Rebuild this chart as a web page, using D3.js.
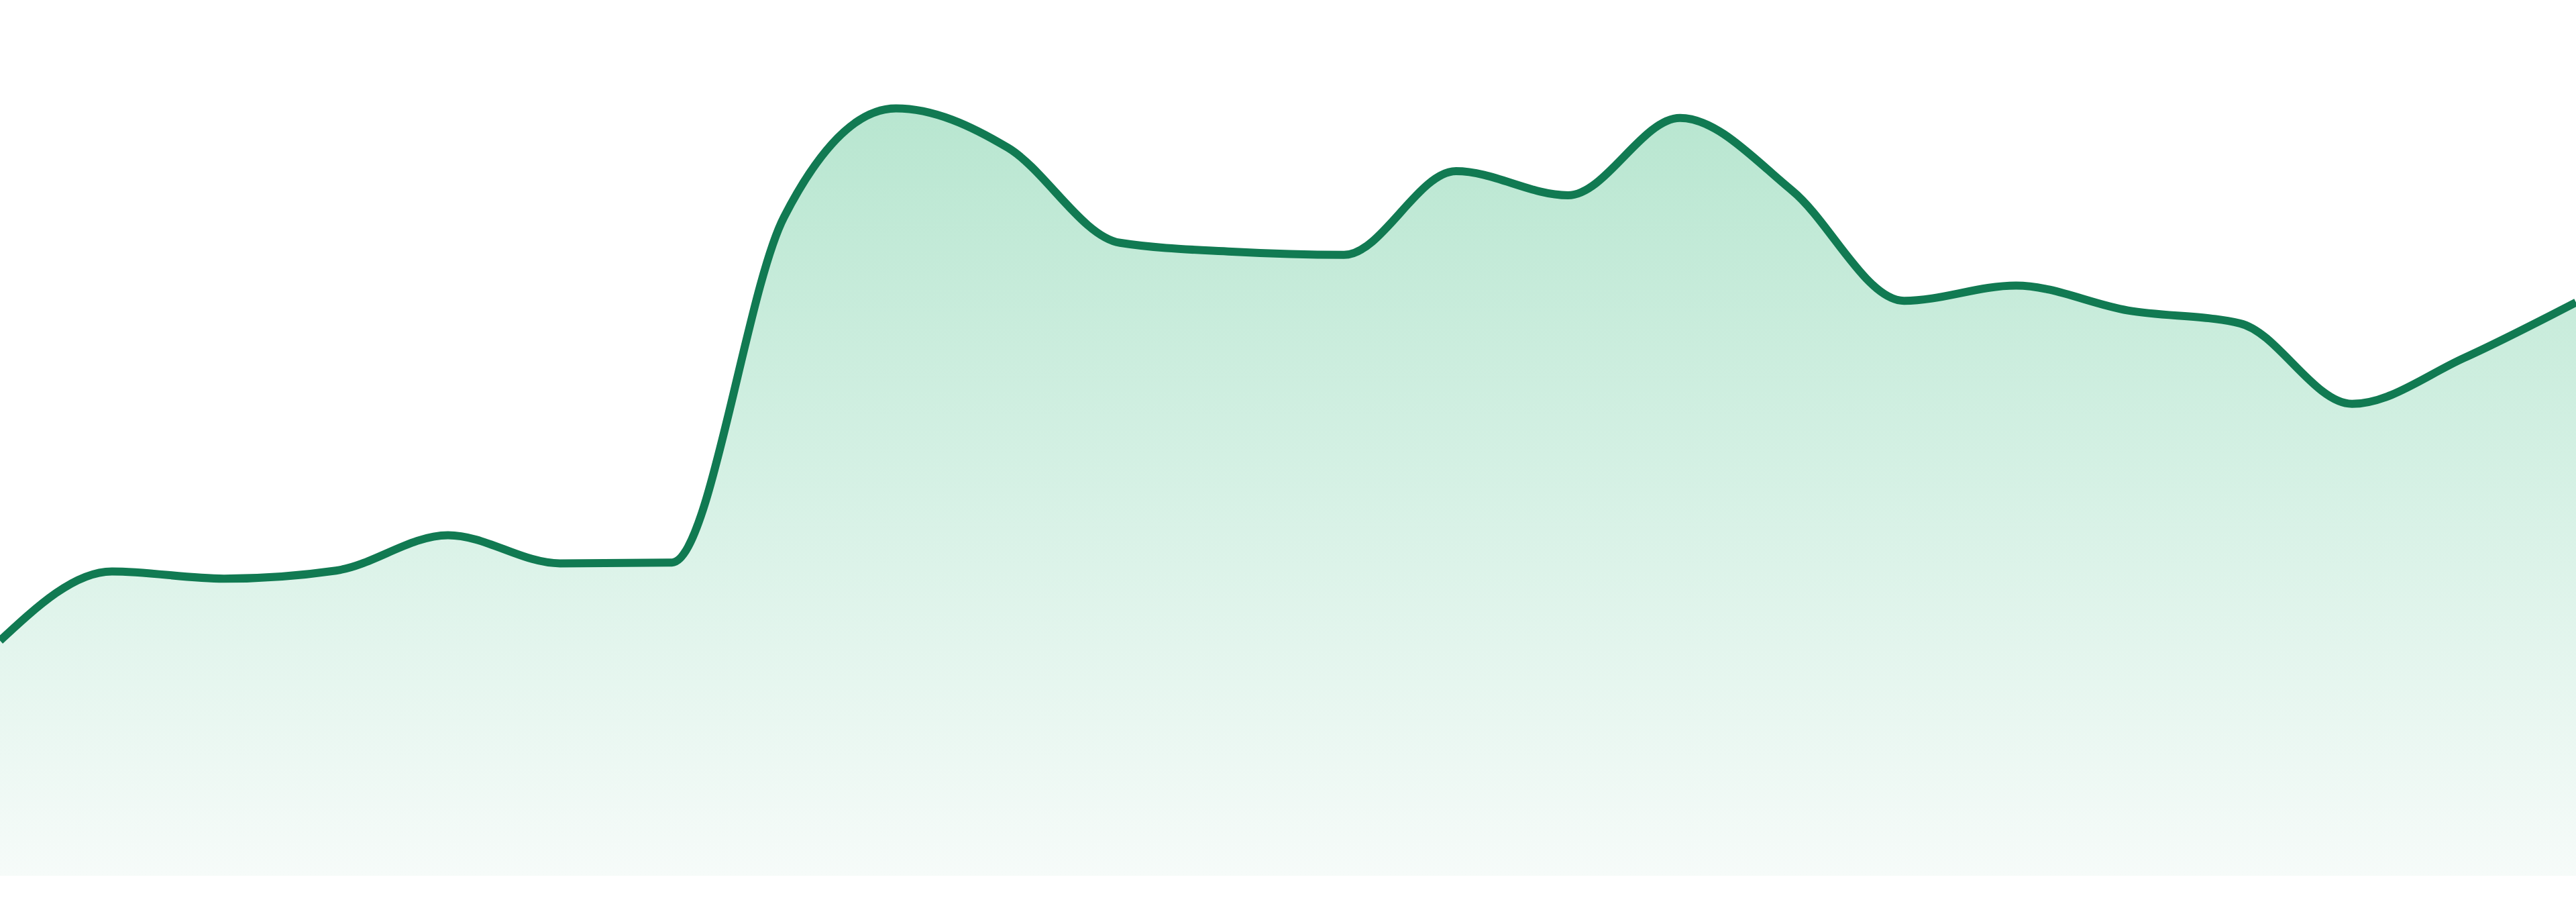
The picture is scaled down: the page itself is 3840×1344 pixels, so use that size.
<!DOCTYPE html>
<html>
<head>
<meta charset="utf-8">
<script src="https://cdn.jsdelivr.net/npm/d3@7"></script>
<style>
  html, body { margin: 0; padding: 0; background: #fff; }
  svg { display: block; }
</style>
</head>
<body>
<svg id="chart"></svg>
<script>
// Series values, one per period
const periods = d3.range(1, 25);
const values = [
  29.2, 37.8, 36.9, 37.9, 42.3, 38.8, 38.9, 81.8,
  95.3, 90.4, 78.6, 77.5, 77.1, 87.5, 84.5, 94.1,
  85.1, 71.4, 73.3, 70.2, 68.6, 58.6, 64.3, 71.2
];

const width = 3840;
const height = 1344;
const bottom = 1305;

const svg = d3.select("#chart")
  .attr("width", width)
  .attr("height", height);

const data = periods.map((p, i) => ({ p, v: values[i] }));

const x = d3.scaleLinear()
  .domain(d3.extent(periods))
  .range([0, width]);

const y = d3.scaleLinear()
  .domain([0, 100])
  .range([bottom, 105]);

// Vertical fade under the line
const grad = svg.append("defs")
  .append("linearGradient")
  .attr("id", "fade")
  .attr("x1", 0).attr("y1", 0)
  .attr("x2", 0).attr("y2", 1);

grad.append("stop").attr("offset", "0%").attr("stop-color", "#b8e6d0");
grad.append("stop").attr("offset", "50%").attr("stop-color", "#d6f1e5");
grad.append("stop").attr("offset", "100%").attr("stop-color", "#f6fbf9");

const area = d3.area()
  .x(d => x(d.p))
  .y0(bottom)
  .y1(d => y(d.v))
  .curve(d3.curveMonotoneX);

const line = d3.line()
  .x(d => x(d.p))
  .y(d => y(d.v))
  .curve(d3.curveMonotoneX);

svg.append("path")
  .datum(data)
  .attr("fill", "url(#fade)")
  .attr("d", area);

svg.append("path")
  .datum(data)
  .attr("fill", "none")
  .attr("stroke", "#117a52")
  .attr("stroke-width", 12)
  .attr("stroke-linejoin", "round")
  .attr("d", line);
</script>
</body>
</html>
